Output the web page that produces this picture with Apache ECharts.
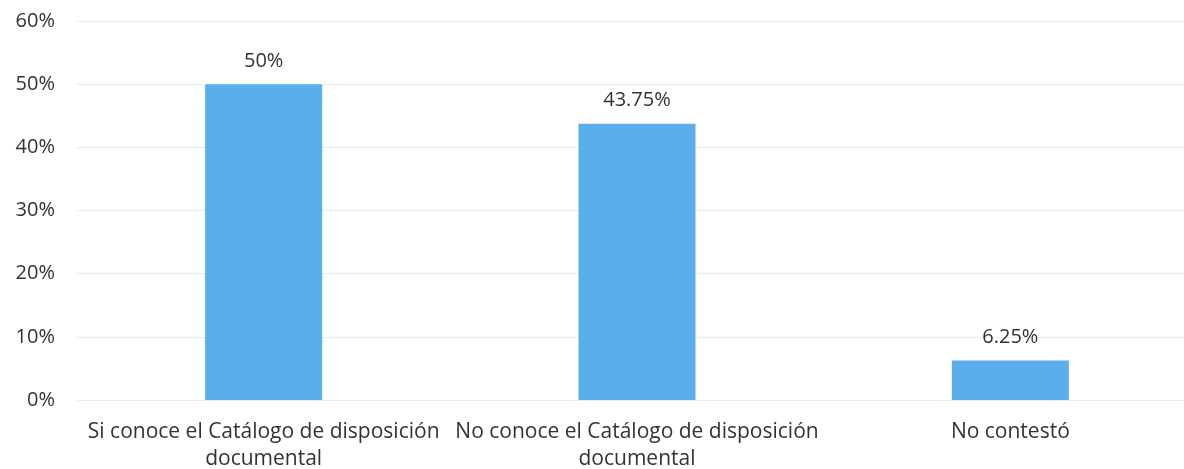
<!DOCTYPE html>
<html>
<head>
<meta charset="utf-8">
<script src="https://cdn.jsdelivr.net/npm/echarts@6/dist/echarts.min.js"></script>
<style>
  html, body { margin: 0; padding: 0; background: #fff; overflow: hidden; }
  #wrap { width: 1184px; height: 469px; overflow: hidden; }
  #chart { width: 1197px; height: 469px; }
</style>
</head>
<body>
<div id="wrap"><div id="chart"></div></div>
<script>
const categories = [
  'Si conoce el Catálogo de disposición\ndocumental',
  'No conoce el Catálogo de disposición\ndocumental',
  'No contestó'
];
const values = [50, 43.75, 6.25];
const yTicks = [0, 10, 20, 30, 40, 50, 60];

const chart = echarts.init(document.getElementById('chart'));
const textColor = '#333333';
const fontFamily = '"Open Sans", "Noto Sans", sans-serif';

chart.setOption({
  animation: false,
  grid: { left: 77, right: 0, top: 21, bottom: 69, containLabel: false, outerBoundsMode: 'none' },
  xAxis: {
    type: 'category',
    data: categories,
    axisLine: { show: false },
    axisTick: { show: false },
    axisLabel: {
      color: textColor, fontSize: 21, fontFamily: fontFamily,
      margin: 19, lineHeight: 27, interval: 0
    }
  },
  yAxis: {
    type: 'value',
    min: yTicks[0],
    max: yTicks[yTicks.length - 1],
    interval: 10,
    axisLine: { show: false },
    axisTick: { show: false },
    splitLine: { lineStyle: { color: '#ececec', width: 1 } },
    axisLabel: {
      color: textColor, fontSize: 20, fontFamily: fontFamily, margin: 22,
      formatter: v => v + '%'
    }
  },
  series: [{
    type: 'bar',
    data: values,
    barWidth: 117,
    itemStyle: { color: '#5aaeea' },
    label: {
      show: true,
      position: 'top',
      distance: 13,
      color: textColor,
      fontSize: 20,
      fontFamily: fontFamily,
      formatter: p => p.value + '%'
    }
  }]
});
</script>
</body>
</html>
